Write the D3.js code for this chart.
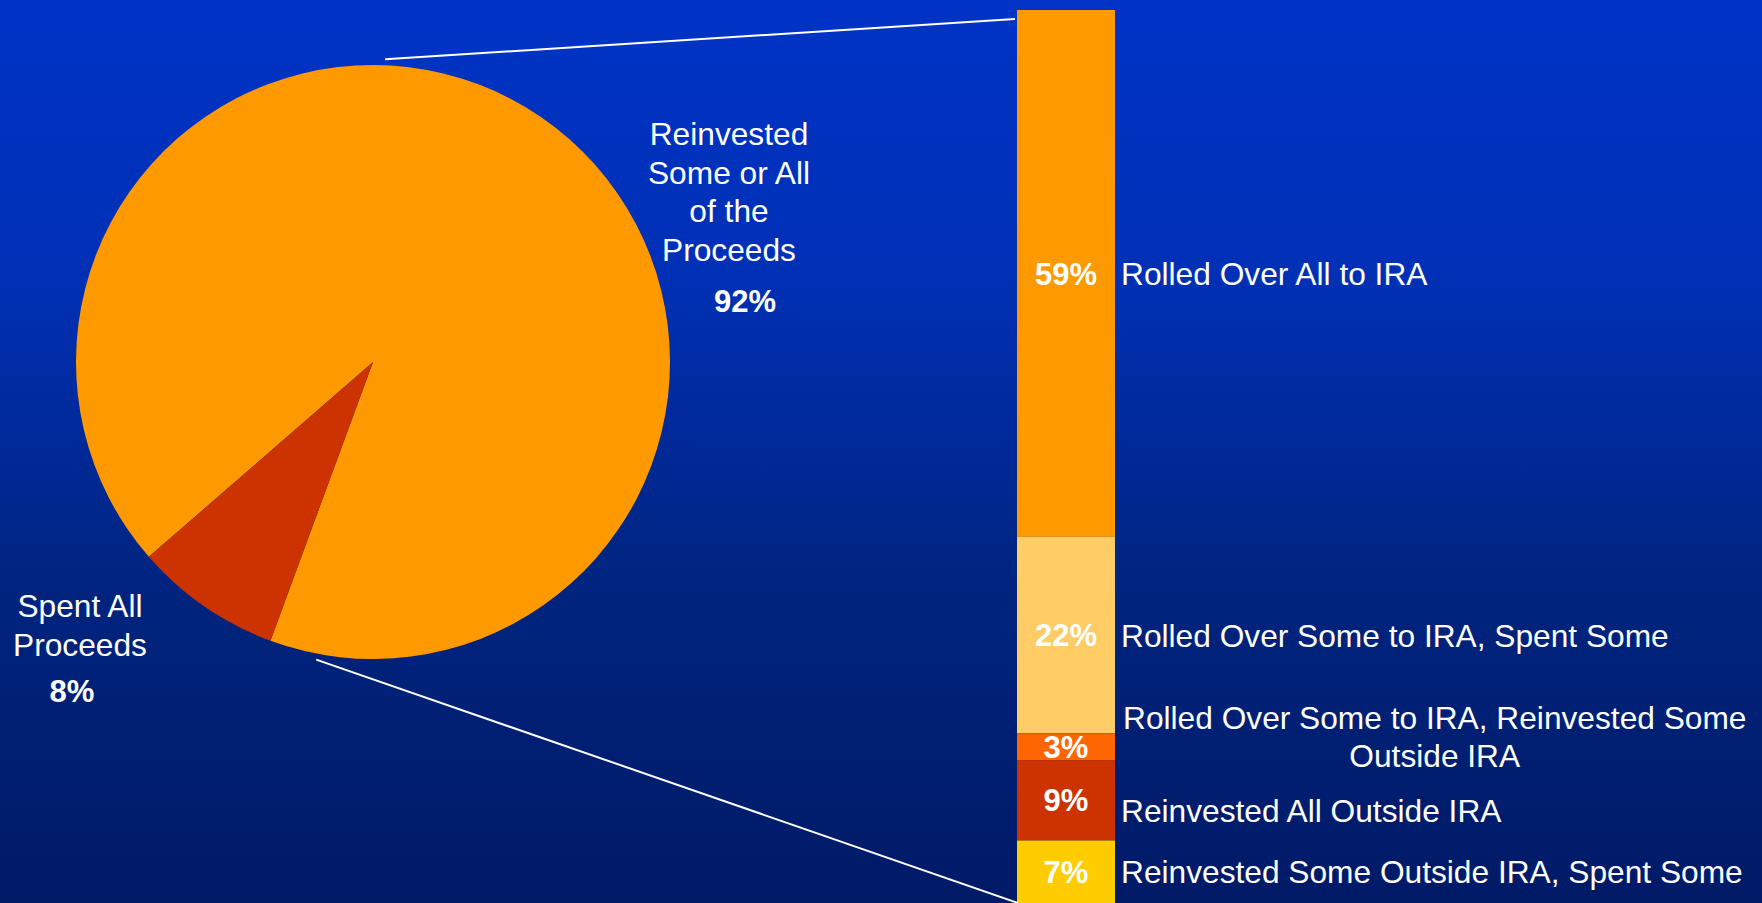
<!DOCTYPE html>
<html>
<head>
<meta charset="utf-8">
<script src="https://cdn.jsdelivr.net/npm/d3@7"></script>
<style>
  html, body { margin: 0; padding: 0; overflow: hidden; background: #001a66; }
  svg { display: block; }
  text { font-family: Arial, "Liberation Sans", sans-serif; fill: #ffffff; }
</style>
</head>
<body>
<svg id="chart" width="1762" height="903"></svg>
<script>
// What happened to lump-sum distributions
const pieCategories = ["Reinvested Some or All of the Proceeds", "Spent All Proceeds"];
const pieValues = [92, 8];
const pieLabelLines = [["Reinvested", "Some or All", "of the", "Proceeds"], ["Spent All", "Proceeds"]];
const pieColors = ["#FF9900", "#CC3300"];

// Breakdown of the "reinvested" slice
const barCategories = [
  "Rolled Over All to IRA",
  "Rolled Over Some to IRA, Spent Some",
  "Rolled Over Some to IRA, Reinvested Some Outside IRA",
  "Reinvested All Outside IRA",
  "Reinvested Some Outside IRA, Spent Some"
];
const barValues = [59, 22, 3, 9, 7];
const barLabelLines = [
  ["Rolled Over All to IRA"],
  ["Rolled Over Some to IRA, Spent Some"],
  ["Rolled Over Some to IRA, Reinvested Some", "Outside IRA"],
  ["Reinvested All Outside IRA"],
  ["Reinvested Some Outside IRA, Spent Some"]
];
const barColors = ["#FF9900", "#FFCC66", "#FF6600", "#CC3300", "#FFCC00"];

const W = 1762, H = 903;
const svg = d3.select("#chart");

// background gradient
const defs = svg.append("defs");
const grad = defs.append("linearGradient").attr("id", "bg")
  .attr("x1", 0).attr("y1", 0).attr("x2", 0).attr("y2", 1);
grad.append("stop").attr("offset", 0).attr("stop-color", "#0033C6");
grad.append("stop").attr("offset", 0.3).attr("stop-color", "#0030B6");
grad.append("stop").attr("offset", 0.65).attr("stop-color", "#00247F");
grad.append("stop").attr("offset", 1).attr("stop-color", "#001A66");
svg.append("rect").attr("width", W).attr("height", H).attr("fill", "url(#bg)");

// ---------- pie ----------
const cx = 373, cy = 362, R = 297;
const deg = Math.PI / 180;
const pie = d3.pie().sort(null).startAngle(229 * deg).endAngle(229 * deg + 2 * Math.PI);
const arc = d3.arc().innerRadius(0).outerRadius(R);
const arcs = pie(pieValues);

const gPie = svg.append("g").attr("transform", `translate(${cx},${cy})`);
gPie.selectAll("path").data(arcs).enter().append("path")
  .attr("d", arc)
  .attr("fill", (d, i) => pieColors[i]);

// ---------- stacked bar ----------
const barX0 = 1017, barX1 = 1115, barTop = 10, barBottom = 903;
const y = d3.scaleLinear().domain([0, d3.sum(barValues)]).range([barTop, barBottom]);
const x = d3.scaleLinear().domain([0, 1]).range([barX0, barX1]);
let acc = 0;
const stack = barValues.map((v, i) => {
  const s = { i, v, y0: acc, y1: acc + v };
  acc += v;
  return s;
});

const gBar = svg.append("g");
gBar.selectAll("rect").data(stack).enter().append("rect")
  .attr("x", x(0))
  .attr("width", x(1) - x(0))
  .attr("y", d => y(d.y0))
  .attr("height", d => y(d.y1) - y(d.y0))
  .attr("fill", d => barColors[d.i]);

// connector lines from the pie to the bar
const rimPoint = (a, r) => [cx + r * Math.sin(a), cy - r * Math.cos(a)];
const pTop = rimPoint(2.3 * deg, R + 6);
const pBot = rimPoint(190.8 * deg, R + 6);
svg.append("line")
  .attr("x1", pTop[0]).attr("y1", pTop[1])
  .attr("x2", x(0) - 2).attr("y2", y(0) + 9)
  .attr("stroke", "#fff").attr("stroke-width", 2);
svg.append("line")
  .attr("x1", pBot[0]).attr("y1", pBot[1])
  .attr("x2", x(0) + 1).attr("y2", y(d3.sum(barValues)))
  .attr("stroke", "#fff").attr("stroke-width", 2);

// value labels inside the bar segments
gBar.selectAll("text.val").data(stack).enter().append("text")
  .attr("class", "val")
  .attr("x", (x(0) + x(1)) / 2)
  .attr("y", d => (y(d.y0) + y(d.y1)) / 2)
  .attr("dy", "0.36em")
  .attr("text-anchor", "middle")
  .style("font-size", "31px").style("font-weight", "bold")
  .text(d => d.v + "%");

// category labels beside the bar, nudged apart where segments are thin
const lineH = 38.5, gap = 16;
const items = stack.map(d => ({
  lines: barLabelLines[d.i],
  c: (y(d.y0) + y(d.y1)) / 2,
  h: barLabelLines[d.i].length * lineH
}));
for (let it = 0; it < 200; it++) {
  for (let k = 1; k < items.length; k++) {
    const a = items[k - 1], b = items[k];
    const need = (a.h + b.h) / 2 + gap;
    const diff = b.c - a.c;
    if (diff < need) {
      const push = (need - diff) / 2;
      a.c -= push; b.c += push;
    }
  }
  const last = items[items.length - 1];
  const maxC = H - last.h / 2 - 4;
  if (last.c > maxC) last.c = maxC;
}

const gLab = svg.append("g");
items.forEach(item => {
  const multi = item.lines.length > 1;
  const t = gLab.append("text")
    .style("font-size", "31.7px")
    .attr("text-anchor", multi ? "middle" : "start");
  const firstC = item.c - (item.lines.length - 1) * lineH / 2;
  item.lines.forEach((ln, j) => {
    t.append("tspan")
      .attr("x", 0)
      .attr("y", firstC + j * lineH)
      .attr("dy", "0.36em")
      .text(ln);
  });
  let tx = barX1 + 6;
  if (multi) {
    const widest = d3.max(t.selectAll("tspan").nodes(), n => n.getComputedTextLength());
    tx = barX1 + 8 + widest / 2;
  }
  t.selectAll("tspan").attr("x", tx);
});

// pie labels
function pieLabel(lines, px, py, pct, qx, qy) {
  const t = svg.append("text").attr("text-anchor", "middle").style("font-size", "31.7px");
  lines.forEach((ln, j) => {
    t.append("tspan").attr("x", cx + px).attr("y", cy + py + j * lineH).text(ln);
  });
  svg.append("text").attr("text-anchor", "middle")
    .attr("x", cx + qx).attr("y", cy + qy)
    .style("font-size", "31px").style("font-weight", "bold")
    .text(pct + "%");
}
pieLabel(pieLabelLines[0], 356, -217, pieValues[0], 372, -50);
pieLabel(pieLabelLines[1], -293, 255, pieValues[1], -301, 340);
</script>
</body>
</html>
